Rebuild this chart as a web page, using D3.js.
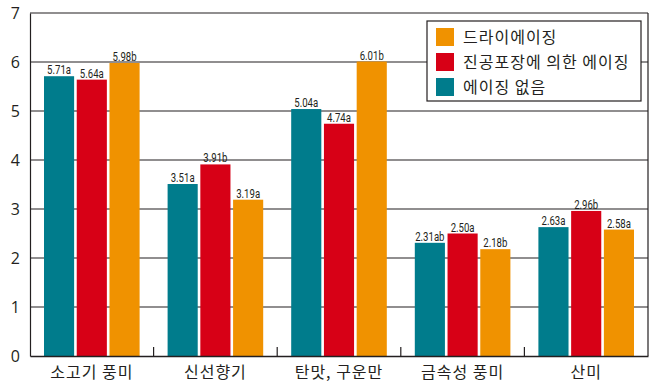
<!DOCTYPE html>
<html>
<head>
<meta charset="utf-8">
<script src="https://cdn.jsdelivr.net/npm/d3@7.9.0/dist/d3.min.js"></script>
<style>
  body { margin: 0; background: #fff; }
  svg { display: block; }
  .ytick text { font-family: "Open Sans", "Noto Sans", sans-serif; font-size: 16px; fill: #231f20; }
  .xlab { font-family: "Noto Sans CJK KR", sans-serif; font-size: 16px; letter-spacing: 1px; fill: #231f20; }
  .val { font-family: "Roboto", sans-serif; font-size: 12px; fill: #231f20; }
  .leg { font-family: "Noto Sans CJK KR", sans-serif; font-size: 16px; letter-spacing: 1px; fill: #231f20; }
</style>
</head>
<body>
<div id="chart"></div>
<script>
const categories = ["소고기 풍미", "신선향기", "탄맛, 구운만", "금속성 풍미", "산미"];
const seriesNames = ["에이징 없음", "진공포장에 의한 에이징", "드라이에이징"];
const seriesColors = ["#007c8c", "#d70016", "#f09200"];
const noAging = [5.71, 3.51, 5.04, 2.31, 2.63];
const vacuumAging = [5.64, 3.91, 4.74, 2.50, 2.96];
const dryAging = [5.98, 3.19, 6.01, 2.18, 2.58];
const noAgingLabels = ["5.71a", "3.51a", "5.04a", "2.31ab", "2.63a"];
const vacuumLabels = ["5.64a", "3.91b", "4.74a", "2.50a", "2.96b"];
const dryLabels = ["5.98b", "3.19a", "6.01b", "2.18b", "2.58a"];
const yTicks = [0, 1, 2, 3, 4, 5, 6, 7];
const legendOrder = [2, 1, 0];

const values = [noAging, vacuumAging, dryAging];
const labels = [noAgingLabels, vacuumLabels, dryLabels];

const width = 657, height = 388;
const margin = { top: 13, right: 9, bottom: 32, left: 30 };
const plotW = width - margin.left - margin.right;
const plotH = height - margin.top - margin.bottom;

const svg = d3.select("#chart").append("svg")
  .attr("width", width).attr("height", height);

const g = svg.append("g").attr("transform", `translate(${margin.left},${margin.top})`);

const x0 = d3.scaleBand().domain(categories).range([0, plotW]).padding(0);
const x1 = d3.scaleBand().domain(d3.range(3))
  .range([14, x0.bandwidth() - 14]).paddingInner(0.08);
const y = d3.scaleLinear().domain([0, 7]).range([plotH, 0]);

// gridlines
g.append("g").selectAll("line")
  .data(yTicks.filter(d => d > 0))
  .join("line")
  .attr("x1", 0).attr("x2", plotW)
  .attr("y1", d => y(d)).attr("y2", d => y(d))
  .attr("stroke", "#231f20").attr("stroke-width", 1.2);

// right border
g.append("line")
  .attr("x1", plotW).attr("x2", plotW).attr("y1", 0).attr("y2", plotH)
  .attr("stroke", "#231f20").attr("stroke-width", 1.2);

// bars
const groups = g.append("g").selectAll("g")
  .data(categories)
  .join("g")
  .attr("transform", d => `translate(${x0(d)},0)`);

const cells = (c, i) => d3.range(3).map(s => ({ s, v: values[s][i], lab: labels[s][i] }));

groups.selectAll("rect")
  .data(cells)
  .join("rect")
  .attr("x", d => x1(d.s))
  .attr("width", x1.bandwidth())
  .attr("y", d => y(d.v))
  .attr("height", d => plotH - y(d.v))
  .attr("fill", d => seriesColors[d.s]);

// condensed value labels
groups.selectAll("text.val")
  .data(cells)
  .join("text")
  .attr("class", "val")
  .attr("transform", d => `translate(${x1(d.s) + x1.bandwidth() / 2},${y(d.v) - 2}) scale(0.8,1)`)
  .attr("text-anchor", "middle")
  .text(d => d.lab);

// y axis
const yAxis = g.append("g").attr("class", "ytick")
  .call(d3.axisLeft(y).tickValues(yTicks).tickSize(0).tickPadding(10).tickFormat(d3.format("d")));
yAxis.select(".domain").attr("stroke", "#231f20").attr("stroke-width", 1.2);

// x axis
const xAxis = g.append("g")
  .attr("transform", `translate(0,${plotH})`)
  .call(d3.axisBottom(x0).tickSize(0).tickFormat(""));
xAxis.select(".domain").attr("stroke", "#231f20").attr("stroke-width", 1.5);

g.append("g").selectAll("line")
  .data(categories.slice(1))
  .join("line")
  .attr("x1", d => x0(d)).attr("x2", d => x0(d))
  .attr("y1", plotH).attr("y2", plotH - 9)
  .attr("stroke", "#231f20").attr("stroke-width", 1.2);

g.append("g").selectAll("text")
  .data(categories)
  .join("text")
  .attr("class", "xlab")
  .attr("x", d => x0(d) + x0.bandwidth() / 2)
  .attr("y", plotH + 22)
  .attr("text-anchor", "middle")
  .text(d => d);

// legend
const legend = svg.append("g").attr("transform", "translate(427,21)");
legend.append("rect")
  .attr("width", 214).attr("height", 80)
  .attr("fill", "#fff").attr("stroke", "#231f20").attr("stroke-width", 1.2);
const items = legend.selectAll("g.item")
  .data(legendOrder)
  .join("g")
  .attr("transform", (d, i) => `translate(9,${7 + i * 25})`);
items.append("rect")
  .attr("width", 18).attr("height", 18)
  .attr("fill", d => seriesColors[d]);
items.append("text")
  .attr("class", "leg")
  .attr("x", 27).attr("y", 15)
  .text(d => seriesNames[d]);
</script>
</body>
</html>
